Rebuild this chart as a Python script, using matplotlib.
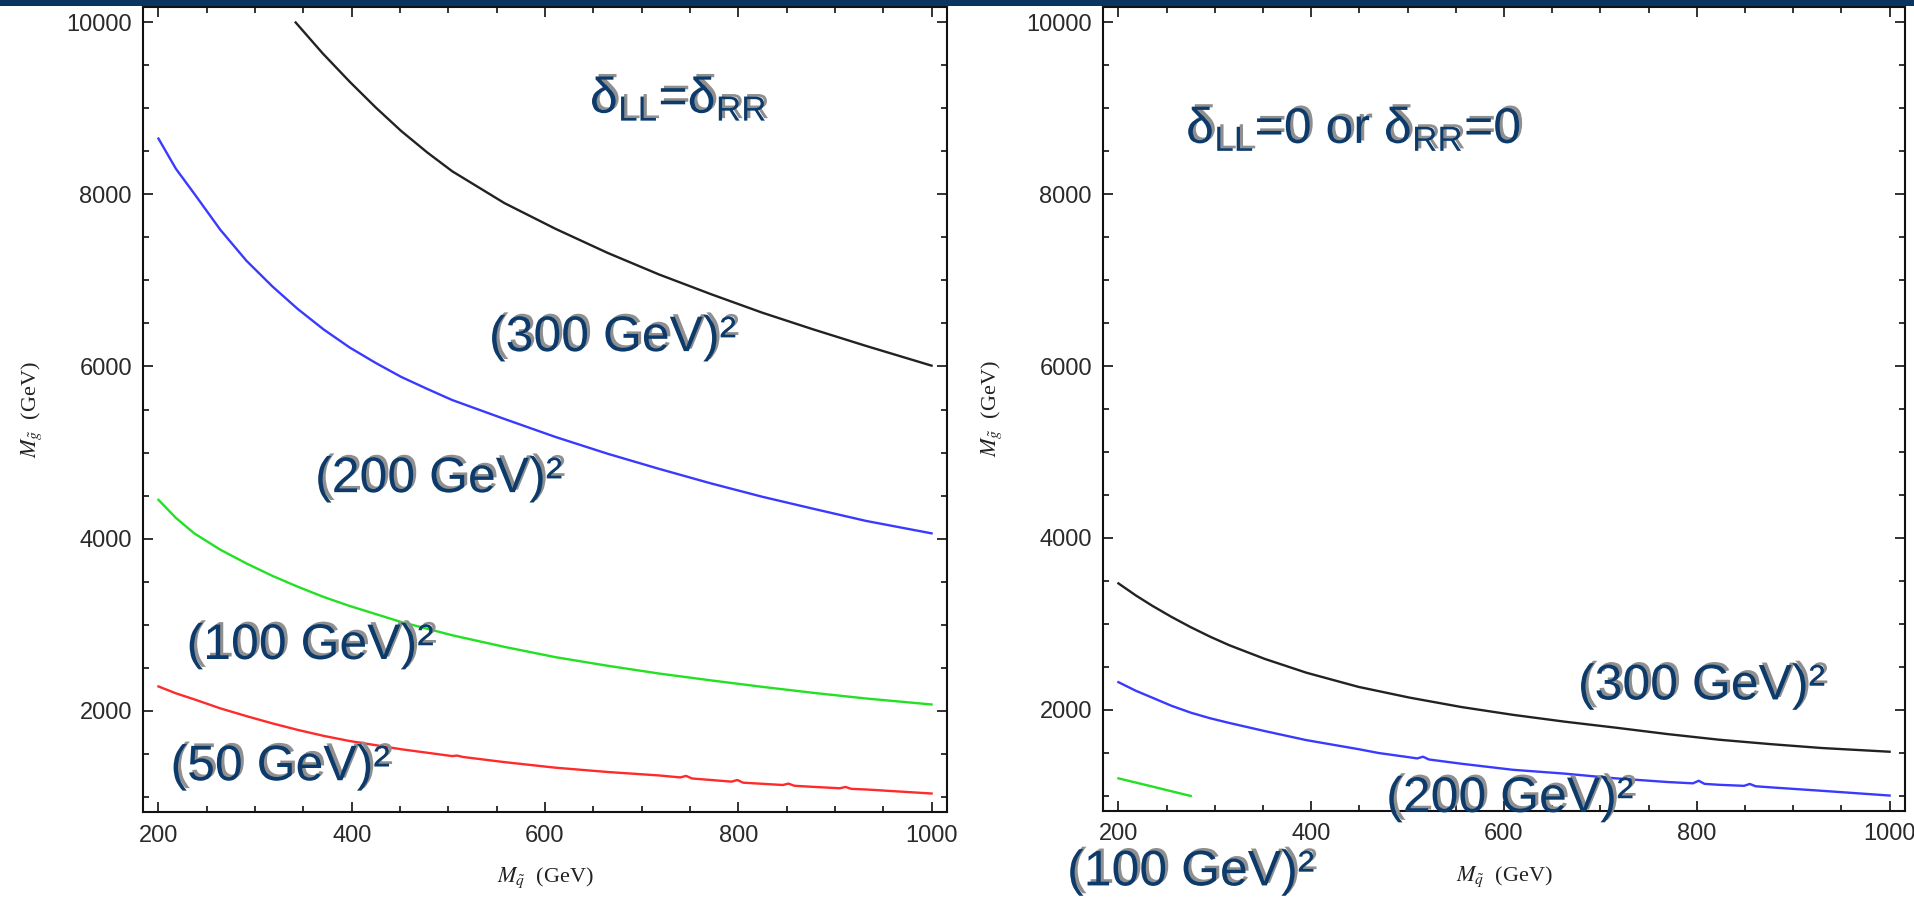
import matplotlib
matplotlib.use("Agg")
import matplotlib.pyplot as plt
import matplotlib.patheffects as pe
from matplotlib.patches import Rectangle
from matplotlib.ticker import FixedLocator, MultipleLocator

# ---------------- data ----------------
# Left panel: delta_LL = delta_RR
left_black_x = [342, 370, 398, 425, 451, 478, 504, 558, 611, 665, 718, 772, 825, 878, 932, 1000]
left_black_y = [10000, 9640, 9310, 9010, 8740, 8490, 8270, 7900, 7600, 7320, 7070, 6840, 6625, 6430, 6240, 6010]

left_blue_x = [200, 218, 237, 264, 291, 318, 344, 371, 398, 425, 451, 478, 504, 558, 611, 665,
               718, 772, 825, 878, 932, 1000]
left_blue_y = [8650, 8300, 8010, 7590, 7230, 6930, 6670, 6430, 6220, 6040, 5880, 5740, 5610, 5390,
               5180, 4985, 4810, 4640, 4485, 4345, 4205, 4060]

left_green_x = [200, 218, 237, 264, 291, 318, 344, 371, 398, 451, 504, 558, 611, 665, 718, 772,
                825, 878, 932, 1000]
left_green_y = [4450, 4240, 4060, 3870, 3710, 3565, 3440, 3320, 3215, 3030, 2875, 2740, 2620, 2520,
                2430, 2350, 2275, 2205, 2140, 2070]

left_red_x = [200, 218, 237, 264, 291, 318, 344, 371, 398, 451, 504, 509, 515, 558, 611, 665, 718,
              740, 746, 752, 793, 799, 805, 846, 852, 858, 878, 905, 911, 917, 932, 1000]
left_red_y = [2280, 2200, 2130, 2025, 1935, 1850, 1775, 1705, 1645, 1550, 1470, 1476, 1460, 1400,
              1335, 1285, 1245, 1222, 1240, 1210, 1173, 1192, 1161, 1134, 1150, 1125, 1112, 1096,
              1111, 1089, 1082, 1035]

# Right panel: delta_LL = 0 or delta_RR = 0
right_black_x = [200, 218, 235, 255, 275, 295, 315, 352, 395, 449, 502, 556, 609, 663, 716, 770,
                 823, 877, 930, 1000]
right_black_y = [3470, 3330, 3210, 3080, 2960, 2850, 2750, 2590, 2430, 2265, 2140, 2030, 1940, 1860,
                 1790, 1715, 1650, 1598, 1553, 1510]

right_blue_x = [200, 218, 235, 255, 275, 295, 315, 352, 395, 449, 470, 502, 510, 516, 522, 556, 609,
                663, 716, 770, 796, 802, 808, 823, 849, 855, 861, 877, 930, 1000]
right_blue_y = [2320, 2220, 2140, 2045, 1965, 1900, 1845, 1750, 1645, 1540, 1495, 1445, 1432, 1452,
                1420, 1370, 1300, 1255, 1200, 1157, 1142, 1172, 1136, 1125, 1113, 1135, 1108, 1095,
                1055, 1000]

right_green_x = [200, 235, 275]
right_green_y = [1200, 1105, 995]

x_major_ticks = [200, 400, 600, 800, 1000]
y_major_ticks = [2000, 4000, 6000, 8000, 10000]

left_labels = [("$\\mathregular{δ_{LL}}$=$\\mathregular{δ_{RR}}$", 738, 9110),
               ("(300 GeV)²", 670, 6330),
               ("(200 GeV)²", 490, 4690),
               ("(100 GeV)²", 357, 2750),
               ("(50 GeV)²", 326, 1340)]
right_labels = [("$\\mathregular{δ_{LL}}$=0 or $\\mathregular{δ_{RR}}$=0", 444, 8757),
                ("(300 GeV)²", 805, 2270),
                ("(200 GeV)²", 606, 960),
                ("(100 GeV)²", 275, 105)]

# ---------------- styling ----------------
plt.rcParams["mathtext.fontset"] = "stix"
NAVY = "#0b3a6b"
C_BLACK = "#222222"
C_BLUE = "#3a3aff"
C_GREEN = "#22e022"
C_RED = "#ff2a2a"

fig = plt.figure(figsize=(19.15, 9.10), dpi=100)
W, H = 1915.0, 910.0
axL = fig.add_axes([143 / W, 98 / H, 804 / W, 805 / H])
axR = fig.add_axes([1103 / W, 99 / H, 802 / W, 804 / H])


def style_axes(ax):
    ax.set_xlim(184, 1016)
    ax.set_ylim(820, 10180)
    ax.xaxis.set_major_locator(FixedLocator(x_major_ticks))
    ax.yaxis.set_major_locator(FixedLocator(y_major_ticks))
    ax.xaxis.set_minor_locator(MultipleLocator(50))
    ax.yaxis.set_minor_locator(MultipleLocator(500))
    ax.tick_params(which="both", direction="in", top=True, right=True,
                   width=1.2, color="#111111")
    ax.tick_params(which="major", length=7.5)
    ax.tick_params(which="minor", length=4)
    ax.tick_params(axis="x", pad=9)
    ax.tick_params(axis="y", pad=8)
    for lab in ax.get_xticklabels() + ax.get_yticklabels():
        lab.set_fontfamily("Liberation Sans")
        lab.set_fontsize(17)
        lab.set_color("#2a2a2a")
    for sp in ax.spines.values():
        sp.set_linewidth(1.5)
        sp.set_color("#111111")
    ax.set_xlabel(r"$M_{\tilde{q}}$  (GeV)", fontsize=16, family="Liberation Serif",
                  labelpad=14, color="#222222")
    ax.set_ylabel(r"$M_{\tilde{g}}$  (GeV)", fontsize=16, family="Liberation Serif",
                  labelpad=16, color="#222222")


def add_label(ax, s, x, y):
    ax.text(x, y, s, fontsize=36, family="Liberation Sans", color=NAVY,
            ha="center", va="center", clip_on=False, zorder=5,
            path_effects=[pe.withSimplePatchShadow(offset=(2.2, 1.8),
                                                   shadow_rgbFace="#8f8f8f",
                                                   alpha=1.0)])


lw = 1.7
axL.plot(left_black_x, left_black_y, color=C_BLACK, lw=lw)
axL.plot(left_blue_x, left_blue_y, color=C_BLUE, lw=lw)
axL.plot(left_green_x, left_green_y, color=C_GREEN, lw=lw)
axL.plot(left_red_x, left_red_y, color=C_RED, lw=lw)

axR.plot(right_black_x, right_black_y, color=C_BLACK, lw=lw)
axR.plot(right_blue_x, right_blue_y, color=C_BLUE, lw=lw)
axR.plot(right_green_x, right_green_y, color=C_GREEN, lw=lw)

for ax in (axL, axR):
    style_axes(ax)

for s, x, y in left_labels:
    add_label(axL, s, x, y)
for s, x, y in right_labels:
    add_label(axR, s, x, y)

# dark title bar strip at the very top
fig.add_artist(Rectangle((0, 1 - 6 / H), 1, 6 / H, transform=fig.transFigure,
                         facecolor="#0b3561", edgecolor="none", zorder=10))

fig.savefig("out.png", dpi=100)
